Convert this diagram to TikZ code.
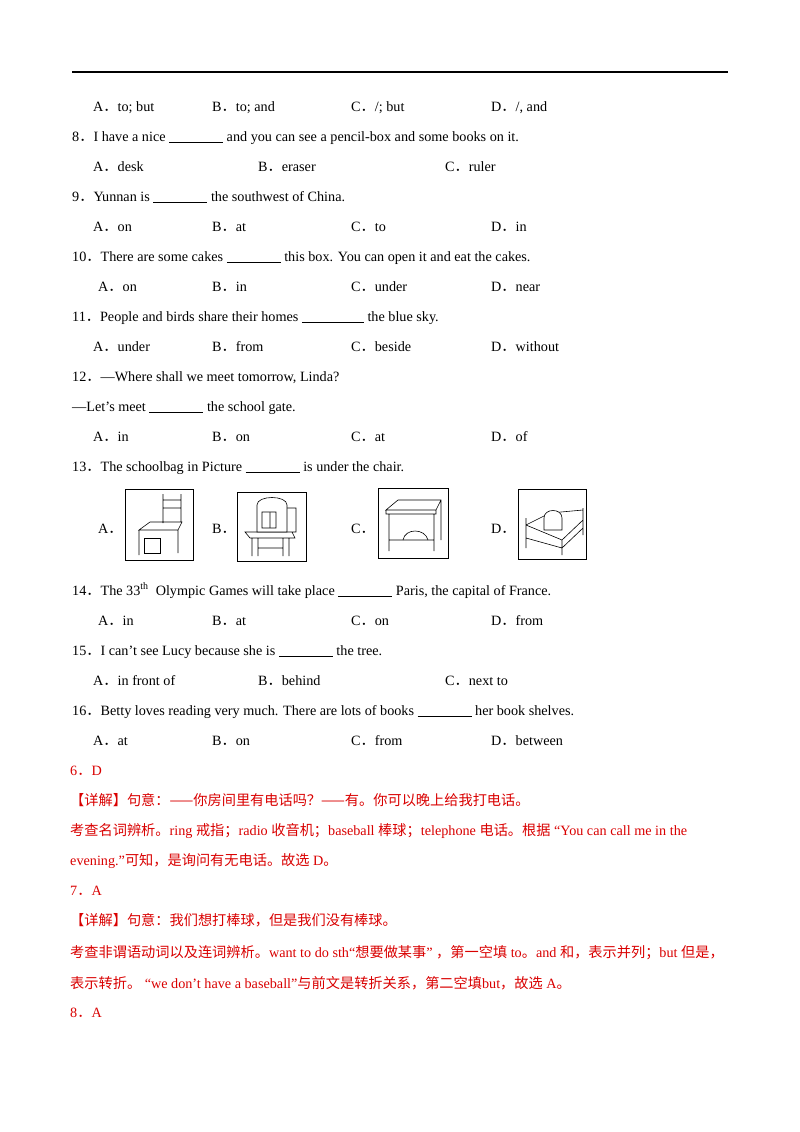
\documentclass[tikz,border=0pt]{standalone}
\usepackage{fontspec}
\setmainfont{Liberation Serif}
\newfontfamily\cjk{Noto Sans CJK SC}
\newcommand{\dt}{{\cjk ．}}
\newcommand{\bl}{\underline{\hspace{54pt}}}
\begin{document}
\begin{tikzpicture}[x=1pt,y=-1pt,font=\fontsize{14.2}{16}\selectfont,
  t/.style={anchor=base west,inner sep=0pt},
  r/.style={t,text=red!85!black},
  pic/.style={draw,line width=0.9pt},
  sk/.style={draw,line width=0.6pt}]
\useasboundingbox (0,0) rectangle (800,1132);
\draw[line width=1.6pt] (72,72) -- (728,72);
\node[t] (a7) at (93,111) {A\dt to; but};
\node[t] (b7) at (212,111) {B\dt to; and};
\node[t] (c7) at (351,111) {C\dt /; but};
\node[t] (d7) at (491,111) {D\dt /, and};
\node[t] (q8) at (72,141) {8\dt I have a nice \bl{} and you can see a pencil-box and some books on it.};
\node[t] (a8) at (93,171) {A\dt desk};
\node[t] (b8) at (258,171) {B\dt eraser};
\node[t] (c8) at (445,171) {C\dt ruler};
\node[t] (q9) at (72,201) {9\dt Yunnan is \bl{} the southwest of China.};
\node[t] (a9) at (93,231) {A\dt on};
\node[t] (b9) at (212,231) {B\dt at};
\node[t] (c9) at (351,231) {C\dt to};
\node[t] (d9) at (491,231) {D\dt in};
\node[t] (q10) at (72,261) {10\dt There are some cakes \bl{} this box. You can open it and eat the cakes.};
\node[t] (a10) at (98,291) {A\dt on};
\node[t] (b10) at (212,291) {B\dt in};
\node[t] (c10) at (351,291) {C\dt under};
\node[t] (d10) at (491,291) {D\dt near};
\node[t] (q11) at (72,321) {11\dt People and birds share their homes \underline{\hspace{62pt}} the blue sky.};
\node[t] (a11) at (93,351) {A\dt under};
\node[t] (b11) at (212,351) {B\dt from};
\node[t] (c11) at (351,351) {C\dt beside};
\node[t] (d11) at (491,351) {D\dt without};
\node[t] (q12) at (72,381) {12\dt —Where shall we meet tomorrow, Linda?};
\node[t] (q12b) at (72,411) {—Let’s meet \bl{} the school gate.};
\node[t] (a12) at (93,441) {A\dt in};
\node[t] (b12) at (212,441) {B\dt on};
\node[t] (c12) at (351,441) {C\dt at};
\node[t] (d12) at (491,441) {D\dt of};
\node[t] (q13) at (72,471) {13\dt The schoolbag in Picture \bl{} is under the chair.};
\node[t] (a13) at (98,533) {A\dt};
\node[t] (b13) at (212,533) {B\dt};
\node[t] (c13) at (351,533) {C\dt};
\node[t] (d13) at (491,533) {D\dt};
% pictures
\draw[pic] (125,489) rectangle (193,560);
\draw[sk] (139,530) -- (139,555) (178,530) -- (178,553) (139,530) -- (150,522) -- (182,522) -- (178,530) -- cycle
 (163,523) -- (163,494) (181,522) -- (181,494) (163,500) -- (181,500) (163,508) -- (181,508);
\draw[sk] (144,538) rectangle (160,553);
\draw[pic] (237,492) rectangle (306,561);
\draw[sk] (270,508) rectangle (296,532) (245,532) -- (292,532) -- (295,538) -- (250,538) -- cycle
 (252,538) -- (252,556) (258,538) -- (258,556) (283,538) -- (283,556) (289,538) -- (289,556) (258,548) -- (283,548);
\draw[sk,fill=white] (257,505) .. controls (257,495) and (287,495) .. (287,505) -- (287,532) -- (257,532) -- cycle (262,512) rectangle (276,528);
\draw[pic] (378,488) rectangle (448,558);
\draw[sk] (386,510) -- (398,500) -- (441,500) -- (436,510) -- cycle (386,510) -- (386,514) -- (436,514) -- (436,510)
 (389,514) -- (389,551) (434,514) -- (434,551) (441,500) -- (441,540) (389,540) -- (434,540);
\draw[sk] (403,540) .. controls (405,528) and (425,528) .. (428,540);
\draw[pic] (518,489) rectangle (586,559);
\draw[sk] (526,518) -- (526,548) (526,525) -- (562,540) -- (583,520) (526,538) -- (562,548) -- (583,528)
 (562,540) -- (562,555) (583,508) -- (583,535) (526,525) -- (550,513) -- (583,510);
\draw[sk,fill=white] (544,518) .. controls (544,508) and (562,508) .. (562,518) -- (562,530) -- (544,530) -- cycle;
\node[t] (q14) at (72,595) {14\dt The 33\textsuperscript{th}\ \ Olympic Games will take place \bl{} Paris, the capital of France.};
\node[t] (a14) at (98,625) {A\dt in};
\node[t] (b14) at (212,625) {B\dt at};
\node[t] (c14) at (351,625) {C\dt on};
\node[t] (d14) at (491,625) {D\dt from};
\node[t] (q15) at (72,655) {15\dt I can’t see Lucy because she is \bl{} the tree.};
\node[t] (a15) at (93,685) {A\dt in front of};
\node[t] (b15) at (258,685) {B\dt behind};
\node[t] (c15) at (445,685) {C\dt next to};
\node[t] (q16) at (72,715) {16\dt Betty loves reading very much. There are lots of books \bl{} her book shelves.};
\node[t] (a16) at (93,745) {A\dt at};
\node[t] (b16) at (212,745) {B\dt on};
\node[t] (c16) at (351,745) {C\dt from};
\node[t] (d16) at (491,745) {D\dt between};
% answers
\node[r] (s6) at (70,775) {6\dt D};
\node[r] (s6a) at (70,805) {{\cjk 【详解】句意：——你房间里有电话吗？——有。你可以晚上给我打电话。}};
\node[r] (s6b) at (70,835) {{\cjk 考查名词辨析。}ring {\cjk 戒指；}radio {\cjk 收音机；}baseball {\cjk 棒球；}telephone {\cjk 电话。根据}\ “You can call me in the};
\node[r] (s6c) at (70,865) {evening.”{\cjk 可知，是询问有无电话。故选} D{\cjk 。}};
\node[r] (s7) at (70,895) {7\dt A};
\node[r] (s7a) at (70,925) {{\cjk 【详解】句意：我们想打棒球，但是我们没有棒球。}};
\node[r] (s7b) at (70,957) {{\cjk 考查非谓语动词以及连词辨析。}want to do sth“{\cjk 想要做某事}” {\cjk ，第一空填} to{\cjk 。}and {\cjk 和，表示并列；}but {\cjk 但是，}};
\node[r] (s7c) at (70,988) {{\cjk 表示转折。}\ “we don’t have a baseball”{\cjk 与前文是转折关系，第二空填}but{\cjk ，故选} A{\cjk 。}};
\node[r] (s8) at (70,1017) {8\dt A};
\end{tikzpicture}
\end{document}
